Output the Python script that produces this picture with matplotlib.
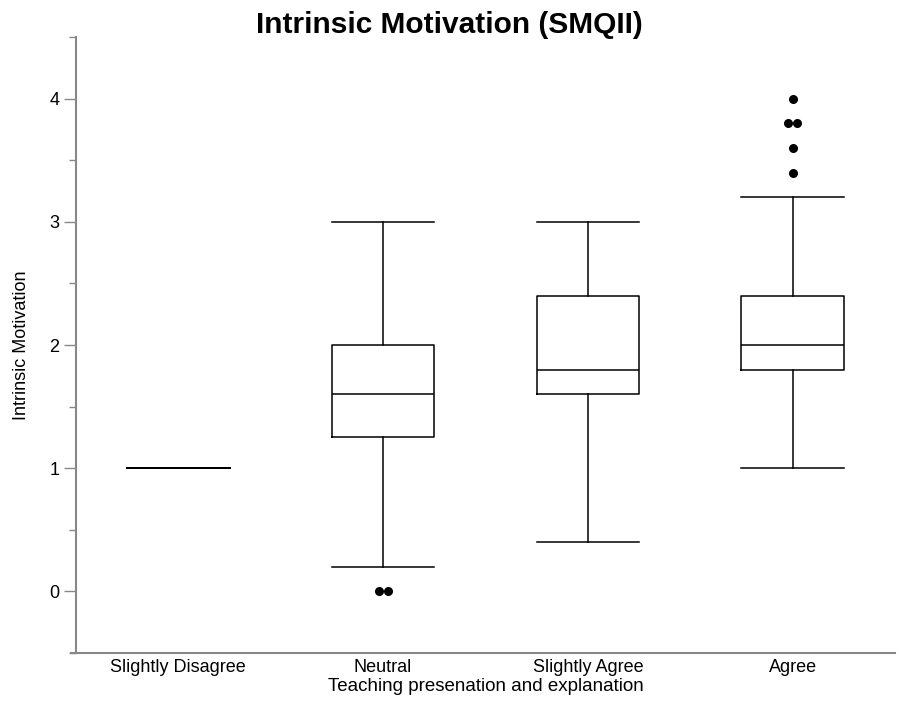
import matplotlib.pyplot as plt
from matplotlib.ticker import MultipleLocator

plt.rcParams['font.family'] = ['Liberation Sans', 'DejaVu Sans']

# box statistics
categories = ["Slightly Disagree", "Neutral", "Slightly Agree", "Agree"]
whislo = [1.0, 0.2, 0.4, 1.0]
q1 = [1.0, 1.25, 1.6, 1.8]
med = [1.0, 1.6, 1.8, 2.0]
q3 = [1.0, 2.0, 2.4, 2.4]
whishi = [1.0, 3.0, 3.0, 3.2]
fliers = [[], [0.0, 0.0], [], [4.0, 3.8, 3.8, 3.6, 3.4]]

stats = []
for i, name in enumerate(categories):
    stats.append(dict(label=name, whislo=whislo[i], q1=q1[i], med=med[i],
                      q3=q3[i], whishi=whishi[i], fliers=[]))

fig = plt.figure(figsize=(8.99, 7.08), dpi=100)
ax = fig.add_axes([0.0845, 0.0777, 0.9111, 0.87])

line_kw = dict(color='black', linewidth=1.1)
ax.bxp(stats, positions=range(len(categories)), widths=0.5, showfliers=False,
       boxprops=line_kw, medianprops=line_kw, whiskerprops=line_kw,
       capprops=line_kw, capwidths=0.5)

# outliers, side by side when values repeat
for i, vals in enumerate(fliers):
    for v in set(vals):
        n = vals.count(v)
        for k in range(n):
            off = (k - (n - 1) / 2) * 0.045
            ax.plot(i + off, v, 'o', color='black', markersize=6.5,
                    markeredgewidth=0)

ax.set_xlim(-0.5, 3.5)
ax.set_ylim(-0.5, 4.5)
ax.set_xticks(range(len(categories)))
ax.set_xticklabels(categories, fontsize=13)
ax.yaxis.set_major_locator(MultipleLocator(1))
ax.yaxis.set_minor_locator(MultipleLocator(0.5))
ax.tick_params(axis='y', which='major', length=9, width=1, color='#888888',
               labelsize=13, pad=3)
ax.tick_params(axis='y', which='minor', length=5, width=1, color='#888888')
ax.tick_params(axis='x', length=0, labelsize=13, pad=4)

for s in ['top', 'right']:
    ax.spines[s].set_visible(False)
for s in ['left', 'bottom']:
    ax.spines[s].set_color('#888888')
    ax.spines[s].set_linewidth(1.5)
ax.spines['bottom'].set_bounds(-0.525, 3.5)
ax.spines['bottom'].set_clip_on(False)

ax.set_xlabel("Teaching presenation and explanation", fontsize=13.5, labelpad=2)
ax.set_ylabel("Intrinsic Motivation", fontsize=13, labelpad=14)
fig.suptitle("Intrinsic Motivation (SMQII)", fontsize=21.5, fontweight='bold',
             x=0.5, y=0.985)

fig.savefig("out.png", dpi=100)
